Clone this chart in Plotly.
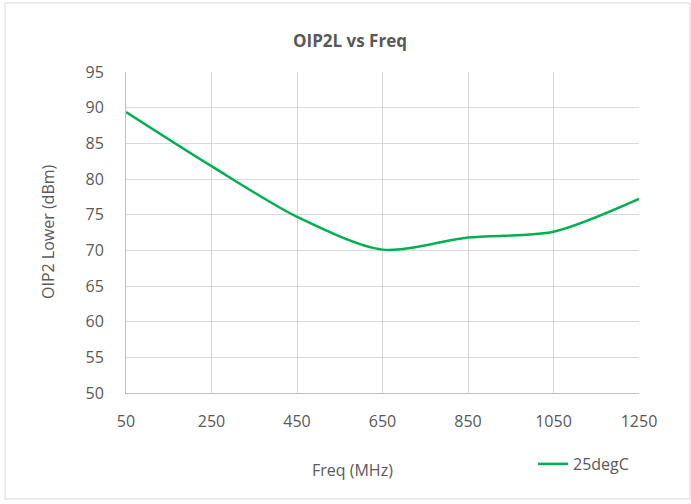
import plotly.graph_objects as go

freq_mhz = [50, 250, 450, 650, 850, 1050, 1250]
oip2_lower_25c = [89.4, 81.8, 74.7, 70.1, 71.8, 72.6, 77.2]

x_ticks = [50, 250, 450, 650, 850, 1050, 1250]
y_ticks = [50, 55, 60, 65, 70, 75, 80, 85, 90, 95]

txt = "#595959"
grid = "#D9D9D9"
font = "Open Sans"

# plot box in pixels (page coords)
L, R, T, B = 126, 639, 72, 393
W, H = 691, 504
pw, ph = R - L, B - T


def px(x):
    return (x - L) / pw


def py(y):
    return (B - y) / ph


fig = go.Figure()
fig.add_trace(go.Scatter(
    x=freq_mhz, y=oip2_lower_25c, mode="lines", name="25degC",
    line=dict(color="#00B050", width=2.5, shape="spline", smoothing=0.8)))

fig.update_layout(
    width=W, height=H,
    margin=dict(l=L, r=W - R, t=T, b=H - B),
    paper_bgcolor="white", plot_bgcolor="white",
    font=dict(family=font, size=16, color=txt),
    showlegend=True,
    legend=dict(x=px(533), y=py(464), xanchor="left", yanchor="middle",
                font=dict(size=16, color=txt), bgcolor="rgba(0,0,0,0)"),
    annotations=[
        dict(text="<b>OIP2L vs Freq</b>", x=px(350), y=py(40), xref="paper", yref="paper",
             xanchor="center", yanchor="middle",
             showarrow=False, font=dict(size=17, color=txt)),
        dict(text="Freq (MHz)", x=px(352), y=py(470),
             xanchor="center", yanchor="middle",
             xref="paper", yref="paper", showarrow=False, font=dict(size=16, color=txt)),
        dict(text="OIP2 Lower (dBm)", x=px(48), y=py(232),
             xanchor="center", yanchor="middle",
             xref="paper", yref="paper", showarrow=False, textangle=-90,
             font=dict(size=16, color=txt)),
    ],
    shapes=[dict(type="rect", xref="paper", yref="paper",
                 x0=px(5), x1=px(690), y0=py(499), y1=py(3),
                 line=dict(color="#D9D9D9", width=1))],
)

fig.update_xaxes(range=[50, 1250], tickvals=x_ticks, showgrid=True, gridcolor=grid,
                 gridwidth=1, showline=True, linecolor="#BFBFBF", zeroline=False,
                 ticks="", ticklabelstandoff=14)
fig.update_yaxes(range=[50, 95], tickvals=y_ticks, showgrid=True, gridcolor=grid,
                 gridwidth=1, showline=True, linecolor="#BFBFBF", zeroline=False,
                 ticks="", ticklabelstandoff=18)

fig.write_html("out.html", config={"displayModeBar": False},
               post_script="document.body.style.margin='0';")
